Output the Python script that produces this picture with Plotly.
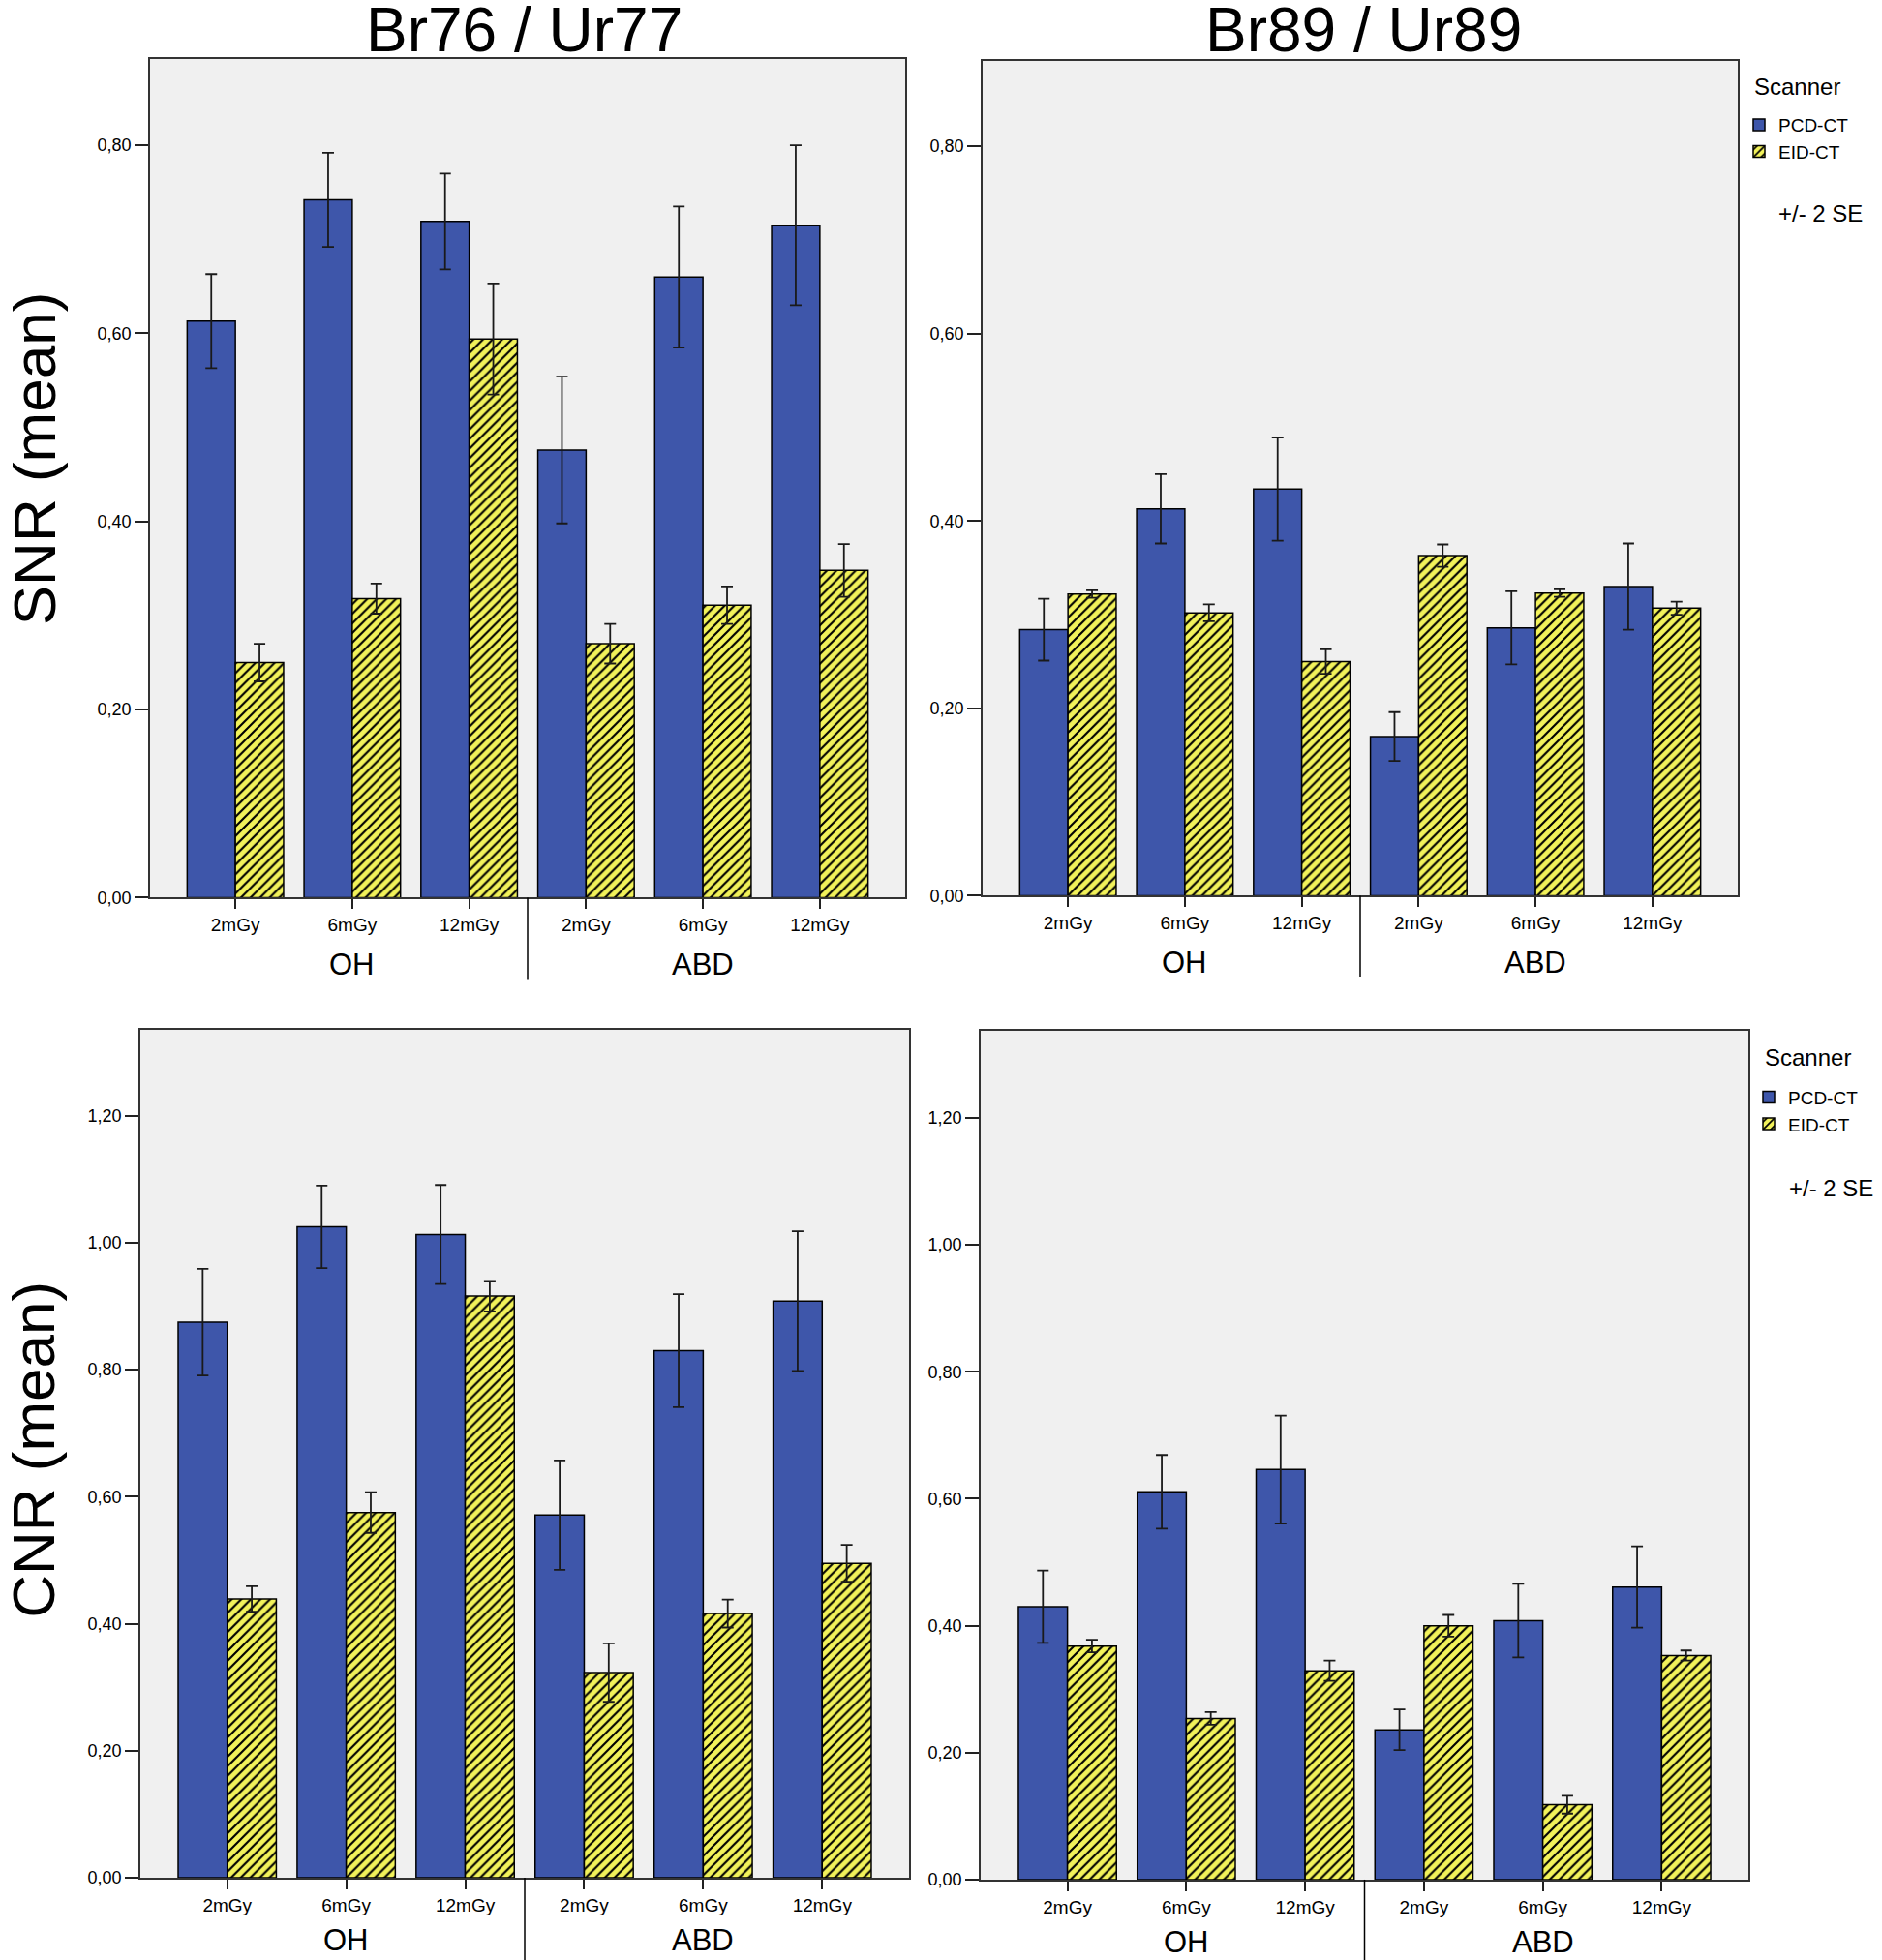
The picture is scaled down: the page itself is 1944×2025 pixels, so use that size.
import plotly.graph_objs as go

# Categories on the x axis
doses = ['2mGy', '6mGy', '12mGy', '2mGy', '6mGy', '12mGy']
regions = ['OH', 'ABD']
xpos = list(range(len(doses)))

# SNR, Br76 / Ur77 (mean and 2 SE)
snr_a_pcd = [0.613, 0.742, 0.719, 0.476, 0.660, 0.715]
snr_a_pcd_se = [0.050, 0.050, 0.051, 0.078, 0.075, 0.085]
snr_a_eid = [0.250, 0.318, 0.594, 0.270, 0.311, 0.348]
snr_a_eid_se = [0.020, 0.016, 0.059, 0.021, 0.020, 0.028]

# SNR, Br89 / Ur89
snr_b_pcd = [0.284, 0.413, 0.434, 0.170, 0.286, 0.330]
snr_b_pcd_se = [0.033, 0.037, 0.055, 0.026, 0.039, 0.046]
snr_b_eid = [0.322, 0.302, 0.250, 0.363, 0.323, 0.307]
snr_b_eid_se = [0.004, 0.009, 0.013, 0.012, 0.004, 0.007]

# CNR, Br76 / Ur77
cnr_a_pcd = [0.875, 1.025, 1.013, 0.571, 0.830, 0.908]
cnr_a_pcd_se = [0.084, 0.065, 0.078, 0.086, 0.089, 0.110]
cnr_a_eid = [0.439, 0.575, 0.916, 0.323, 0.416, 0.495]
cnr_a_eid_se = [0.020, 0.032, 0.024, 0.046, 0.022, 0.029]

# CNR, Br89 / Ur89
cnr_b_pcd = [0.430, 0.611, 0.646, 0.236, 0.408, 0.461]
cnr_b_pcd_se = [0.057, 0.058, 0.085, 0.032, 0.058, 0.064]
cnr_b_eid = [0.368, 0.254, 0.329, 0.400, 0.118, 0.353]
cnr_b_eid_se = [0.010, 0.010, 0.016, 0.017, 0.014, 0.008]

snr_ticks = [0, 0.2, 0.4, 0.6, 0.8]
cnr_ticks = [0, 0.2, 0.4, 0.6, 0.8, 1.0, 1.2]

BLUE = '#3E56AA'
YELLOW = '#F2F25A'
FONT = 'Liberation Sans, Arial, sans-serif'

panels = [
    # axis suffix, pcd, pcd se, eid, eid se, legend
    ('', snr_a_pcd, snr_a_pcd_se, snr_a_eid, snr_a_eid_se, None),
    ('2', snr_b_pcd, snr_b_pcd_se, snr_b_eid, snr_b_eid_se, 'legend'),
    ('3', cnr_a_pcd, cnr_a_pcd_se, cnr_a_eid, cnr_a_eid_se, None),
    ('4', cnr_b_pcd, cnr_b_pcd_se, cnr_b_eid, cnr_b_eid_se, 'legend2'),
]

data = []
for ax, pcd, pcd_se, eid, eid_se, leg in panels:
    err_style = dict(type='data', color='#1a1a1a', thickness=1.8, width=6)
    data.append(go.Bar(
        x=xpos, y=pcd, name='PCD-CT', xaxis='x' + ax, yaxis='y' + ax,
        marker=dict(color=BLUE, line=dict(color='black', width=1.5)),
        error_y=dict(array=pcd_se, **err_style),
        showlegend=leg is not None, legend=leg or 'legend'))
    data.append(go.Bar(
        x=xpos, y=eid, name='EID-CT', xaxis='x' + ax, yaxis='y' + ax,
        marker=dict(color=YELLOW, line=dict(color='black', width=1.5),
                    pattern=dict(shape='/', fgcolor='black', bgcolor=YELLOW,
                                 size=7, solidity=0.3, fillmode='replace')),
        error_y=dict(array=eid_se, **err_style),
        showlegend=leg is not None, legend=leg or 'legend'))

# positions below are measured on a 1944 x 2025 picture; the photo of the
# page comes out slightly squashed vertically, so the figure is a bit taller
W, H = 1944, 2025
FIG_H = 2036


def xdom(left, right):
    return [left / W, right / W]


def ydom(top, bottom):
    return [1 - bottom / H, 1 - top / H]


def xaxis(dom, anchor):
    return dict(domain=dom, anchor=anchor, range=[-0.73, 5.73],
                tickvals=xpos, ticktext=doses, ticks='outside', ticklen=10,
                tickwidth=1.5, tickcolor='#222', showgrid=False, zeroline=False,
                showline=True, linecolor='#333', linewidth=1.8, mirror=True,
                tickfont=dict(size=19, color='black', family=FONT))


def yaxis(dom, anchor, rng, ticks):
    return dict(domain=dom, anchor=anchor, range=rng, tickvals=ticks,
                tickformat='.2f', ticks='outside', ticklen=14, tickwidth=1.5,
                tickcolor='#222', showgrid=False, zeroline=False,
                showline=True, linecolor='#333', linewidth=1.8, mirror=True,
                tickfont=dict(size=18, color='black', family=FONT))


legend_style = dict(xanchor='left', yanchor='top', font=dict(size=19),
                    bgcolor='rgba(0,0,0,0)', tracegroupgap=0)

layout = go.Layout(
    width=W, height=FIG_H, margin=dict(l=0, r=0, t=0, b=0),
    paper_bgcolor='white', plot_bgcolor='#F0F0F0',
    separators=',.', barmode='group', bargap=0.175, bargroupgap=0,
    font=dict(family=FONT, color='black'),
    xaxis=xaxis(xdom(155, 935), 'y'),
    yaxis=yaxis(ydom(61, 927), 'x', [0, 0.8917], snr_ticks),
    xaxis2=xaxis(xdom(1015, 1795), 'y2'),
    yaxis2=yaxis(ydom(63, 925), 'x2', [0, 0.891], snr_ticks),
    xaxis3=xaxis(xdom(145, 939), 'y3'),
    yaxis3=yaxis(ydom(1063, 1939), 'x3', [0, 1.336], cnr_ticks),
    xaxis4=xaxis(xdom(1013, 1806), 'y4'),
    yaxis4=yaxis(ydom(1064, 1941), 'x4', [0, 1.338], cnr_ticks),
    legend=dict(x=1797 / W, y=1 - 110 / H, **legend_style),
    legend2=dict(x=1807 / W, y=1 - 1114 / H, **legend_style),
)

fig = go.Figure(data=data, layout=layout)

# Group labels and divider under each x axis
for ax, gy, dy in [('', -0.080, -0.097), ('2', -0.080, -0.097),
                   ('3', -0.074, -0.1), ('4', -0.074, -0.1)]:
    fig.add_shape(type='line', xref='x' + ax, yref='y' + ax + ' domain',
                  x0=2.5, x1=2.5, y0=0, y1=dy,
                  line=dict(color='black', width=1.5))
    for i, reg in enumerate(regions):
        fig.add_annotation(text=reg, xref='x' + ax, yref='y' + ax + ' domain',
                           x=1 + 3 * i, y=gy, xanchor='center',
                           yanchor='middle', showarrow=False,
                           font=dict(size=31))

# Column titles
for title, cx in [('Br76 / Ur77', 541), ('Br89 / Ur89', 1408)]:
    fig.add_annotation(text=title, xref='paper', yref='paper',
                       x=cx / W, y=1 + 7 / H, xanchor='center', yanchor='top',
                       showarrow=False, font=dict(size=64))

# Row titles
fig.add_annotation(text='SNR (mean)', xref='paper', yref='paper',
                   x=35 / W, y=1 - 474 / H, xanchor='center', yanchor='middle',
                   textangle=-90, showarrow=False, font=dict(size=62))
fig.add_annotation(text='CNR (mean)', xref='paper', yref='paper',
                   x=35 / W, y=1 - 1497 / H, xanchor='center', yanchor='middle',
                   textangle=-90, showarrow=False, font=dict(size=62))

# Legend headings and error bar note
for lx, ly, sy in [(1810, 89, 220), (1821, 1092, 1227)]:
    fig.add_annotation(text='Scanner', xref='paper', yref='paper',
                       x=lx / W, y=1 - ly / H, xanchor='left', yanchor='middle',
                       showarrow=False, font=dict(size=24))
    fig.add_annotation(text='+/- 2 SE', xref='paper', yref='paper',
                       x=(lx + 70) / W, y=1 - sy / H, xanchor='center',
                       yanchor='middle', showarrow=False, font=dict(size=24))

# the page body has a default margin that shifts the figure; remove it
page_js = ("document.body.style.margin='0';"
           "document.documentElement.style.overflow='hidden';")
fig.write_html('out.html', config={'displayModeBar': False},
               post_script=page_js)
